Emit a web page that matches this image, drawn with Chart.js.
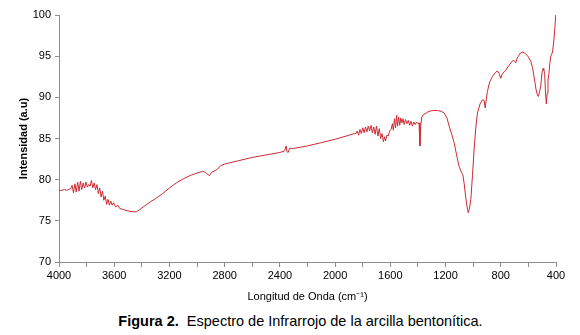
<!DOCTYPE html>
<html>
<head>
<meta charset="utf-8">
<script src="https://cdn.jsdelivr.net/npm/chart.js@4"></script>
<style>
  body { margin: 0; background: #fff; }
  #wrap { position: relative; width: 580px; height: 335px; }
  #caption {
    position: absolute; left: 0; width: 601px; top: 313px; line-height: 17px;
    text-align: center; font: 14.5px "Liberation Sans", Arial, sans-serif; color: #000;
    white-space: nowrap;
  }
</style>
</head>
<body>
<div id="wrap">
  <canvas id="irChart" width="580" height="310"></canvas>
  <div id="caption"><b>Figura 2.</b>&nbsp; Espectro de Infrarrojo de la arcilla bentonítica.</div>
</div>
<script>
// wavenumbers (cm-1)
const waveNumbers = [
  4000, 3980, 3960, 3945, 3930, 3915, 3905, 3895, 3885, 3875, 3865, 3855, 3845, 3835, 3825, 3815,
  3805, 3795, 3785, 3775, 3765, 3755, 3745, 3735, 3725, 3715, 3705, 3695, 3685, 3675, 3665, 3655,
  3645, 3635, 3625, 3615, 3605, 3590, 3575, 3560, 3540, 3500, 3460, 3440, 3420, 3380, 3340, 3300,
  3250, 3200, 3150, 3100, 3050, 3000, 2960, 2940, 2920, 2910, 2895, 2870, 2850, 2830, 2800, 2700,
  2600, 2500, 2400, 2365, 2355, 2348, 2340, 2330, 2300, 2200, 2100, 2000, 1900, 1860,
  1850, 1840, 1830, 1820, 1810, 1800, 1790, 1780, 1770, 1760, 1750, 1740, 1730, 1720, 1710, 1700,
  1690, 1680, 1670, 1660, 1650, 1642, 1635, 1625, 1615, 1605, 1595, 1585, 1578, 1570, 1562, 1555,
  1548, 1540, 1532, 1524, 1516, 1508, 1500, 1490, 1480, 1470, 1460, 1450, 1440, 1430, 1420, 1410,
  1400, 1392, 1386, 1380, 1372, 1360, 1340, 1320, 1290, 1260, 1230, 1210, 1190, 1174, 1155, 1138,
  1120, 1102, 1085, 1075, 1065, 1055, 1045, 1036, 1028, 1017, 1005, 993, 980, 969, 950, 933,
  920, 913, 905, 897, 880, 861, 840, 825, 812, 800, 790, 775, 764, 740, 716, 705,
  692, 680, 656, 640, 620, 600, 583, 570, 559, 545, 535, 528, 520, 511, 500, 494,
  488, 482, 476, 470, 464, 458, 451, 445, 438, 433, 425, 415, 408, 402
];

// intensity (a.u) at each wavenumber
const intensity = [
  78.7, 78.7, 78.8, 78.7, 78.8, 78.9, 79.3, 78.4, 79.5, 78.5, 79.7, 78.6, 79.8, 78.8, 79.6, 79.0,
  79.7, 79.1, 79.4, 79.2, 79.9, 79.0, 79.6, 78.8, 79.4, 78.3, 79.0, 77.9, 78.6, 77.5, 78.0, 77.0,
  77.6, 76.9, 77.4, 76.9, 77.2, 76.7, 76.9, 76.5, 76.4, 76.2, 76.1, 76.1, 76.3, 76.8, 77.3, 77.7,
  78.3, 79.0, 79.6, 80.1, 80.5, 80.8, 81.0, 80.9, 80.6, 80.5, 80.9, 81.1, 81.3, 81.7, 81.9, 82.3,
  82.7, 83.0, 83.3, 83.5, 84.1, 83.4, 83.3, 83.8, 83.8, 84.1, 84.5, 84.9, 85.4, 85.6,
  85.6, 85.9, 85.4, 86.1, 85.6, 86.3, 85.7, 86.4, 85.8, 86.5, 85.9, 86.6, 85.7, 86.4, 85.5, 86.5,
  85.3, 86.2, 85.0, 85.6, 84.6, 85.2, 84.7, 85.4, 85.3, 85.9, 86.1, 86.8, 86.0, 87.4, 86.3, 87.8,
  86.5, 87.6, 86.6, 87.5, 86.9, 87.4, 86.7, 87.3, 86.8, 87.2, 86.6, 87.1, 86.5, 87.0, 86.7, 87.0,
  86.8, 86.9, 84.1, 86.5, 87.6, 87.9, 88.1, 88.3, 88.4, 88.4, 88.3, 88.1, 87.5, 86.5, 85.5, 84.5,
  83.0, 81.6, 80.9, 80.6, 79.5, 78.0, 76.8, 76.0, 76.4, 77.6, 80.5, 83.7, 86.5, 88.1, 89.2, 89.7,
  89.6, 88.7, 89.8, 90.7, 91.9, 92.5, 93.0, 93.2, 92.9, 92.3, 92.8, 93.1, 93.3, 93.9, 94.4, 94.5,
  94.2, 94.8, 95.4, 95.5, 95.3, 94.9, 94.4, 93.6, 92.5, 91.0, 90.3, 90.1, 90.6, 91.3, 93.2, 93.5,
  93.3, 92.9, 90.5, 89.2, 90.5, 92.1, 92.9, 94.1, 95.0, 95.2, 95.5, 97.0, 98.5, 100.0
];

const xMin = 400, xMax = 4000, xStep = 200, xLabelEvery = 400;
const yMin = 70, yMax = 100, yStep = 5;

const axisGray = '#8c8c8c';
const fontFamily = '"Liberation Sans", Arial, sans-serif';

const points = waveNumbers.map((w, i) => ({ x: w, y: intensity[i] }));

new Chart(document.getElementById('irChart'), {
  type: 'line',
  data: {
    datasets: [{
      data: points,
      borderColor: '#cc2a32',
      borderWidth: 1,
      pointRadius: 0,
      tension: 0,
      fill: false
    }]
  },
  options: {
    responsive: false,
    animation: false,
    layout: { padding: { top: 15, right: 24, left: 17, bottom: 6 } },
    plugins: { legend: { display: false }, tooltip: { enabled: false } },
    scales: {
      x: {
        type: 'linear',
        reverse: true,
        min: xMin,
        max: xMax,
        afterFit: (scale) => { scale.height = 42; },
        ticks: {
          stepSize: xStep,
          autoSkip: false,
          maxRotation: 0,
          color: '#000',
          font: { family: fontFamily, size: 11 },
          padding: 2,
          callback: (v) => (v % xLabelEvery === 0 ? v : '')
        },
        grid: { drawOnChartArea: false, drawTicks: true, tickLength: 5, color: axisGray },
        border: { display: true, color: axisGray },
        title: {
          display: true,
          text: 'Longitud de Onda (cm⁻¹)',
          color: '#000',
          font: { family: fontFamily, size: 11 },
          padding: { top: 4, bottom: 0 }
        }
      },
      y: {
        min: yMin,
        max: yMax,
        afterFit: (scale) => { scale.width = 42; },
        ticks: { stepSize: yStep, color: '#000', font: { family: fontFamily, size: 11 }, padding: 4 },
        grid: { drawOnChartArea: false, drawTicks: true, tickLength: 4, color: axisGray },
        border: { display: true, color: axisGray },
        title: {
          display: true,
          text: 'Intensidad (a.u)',
          color: '#000',
          font: { family: fontFamily, size: 11, weight: 'bold' },
          padding: { top: 0, bottom: 0 }
        }
      }
    }
  }
});
</script>
</body>
</html>
